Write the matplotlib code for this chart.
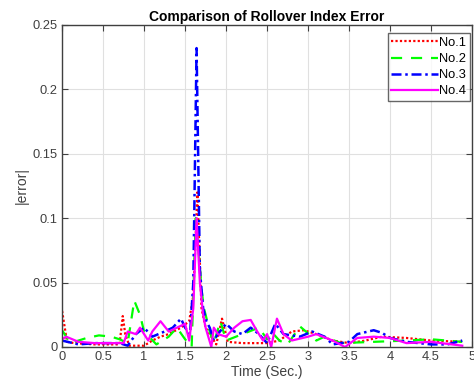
import matplotlib
matplotlib.use("Agg")
import matplotlib.pyplot as plt

plt.rcParams['font.family'] = ['Liberation Sans', 'DejaVu Sans']

# Rollover index error for four cases, sampled over time (s)
t1 = [0.0, 0.02, 0.06, 0.15, 0.4, 0.7, 0.74, 0.77, 0.82, 1.0, 1.1, 1.2, 1.3, 1.45, 1.55, 1.6, 1.65, 1.7, 1.75, 1.8, 1.88, 1.95, 2.02, 2.2, 2.5, 2.65, 2.8, 2.95, 3.1, 3.3, 3.5, 3.7, 3.9, 4.2, 4.5, 4.88]
e1 = [0.028, 0.02, 0.004, 0.003, 0.002, 0.002, 0.024, 0.01, 0.001, 0.001, 0.005, 0.008, 0.01, 0.015, 0.02, 0.04, 0.12, 0.03, 0.015, 0.01, 0.002, 0.022, 0.004, 0.003, 0.003, 0.005, 0.012, 0.013, 0.01, 0.005, 0.003, 0.005, 0.008, 0.007, 0.005, 0.004]

t2 = [0.0, 0.1, 0.3, 0.45, 0.6, 0.7, 0.8, 0.88, 0.95, 1.0, 1.15, 1.3, 1.4, 1.5, 1.58, 1.63, 1.67, 1.7, 1.73, 1.77, 1.8, 1.85, 1.93, 2.0, 2.2, 2.4, 2.5, 2.55, 2.65, 2.75, 2.9, 3.1, 3.2, 3.4, 3.8, 4.2, 4.5, 4.88]
e2 = [0.013, 0.003, 0.007, 0.009, 0.008, 0.006, 0.003, 0.036, 0.025, 0.012, 0.002, 0.008, 0.015, 0.006, 0.0, 0.1, 0.07, 0.045, 0.03, 0.02, 0.012, 0.003, 0.02, 0.005, 0.01, 0.015, 0.006, 0.012, 0.005, 0.002, 0.016, 0.005, 0.008, 0.003, 0.004, 0.005, 0.006, 0.004]

t3 = [0.0, 0.2, 0.4, 0.7, 0.8, 0.9, 1.0, 1.1, 1.25, 1.35, 1.45, 1.5, 1.56, 1.6, 1.64, 1.68, 1.72, 1.76, 1.8, 1.85, 1.9, 2.0, 2.1, 2.2, 2.3, 2.4, 2.5, 2.6, 2.7, 2.9, 3.05, 3.2, 3.3, 3.5, 3.6, 3.8, 3.9, 4.0, 4.2, 4.5, 4.7, 4.88]
e3 = [0.005, 0.002, 0.003, 0.003, 0.001, 0.01, 0.015, 0.008, 0.012, 0.015, 0.022, 0.015, 0.01, 0.05, 0.232, 0.06, 0.03, 0.02, 0.015, 0.005, 0.01, 0.018, 0.012, 0.01, 0.015, 0.01, 0.003, 0.018, 0.01, 0.008, 0.012, 0.008, 0.002, 0.004, 0.01, 0.013, 0.011, 0.007, 0.004, 0.002, 0.002, 0.005]

t4 = [0.0, 0.05, 0.2, 0.4, 0.6, 0.75, 0.8, 0.9, 0.95, 1.05, 1.1, 1.2, 1.3, 1.4, 1.5, 1.55, 1.6, 1.64, 1.68, 1.72, 1.75, 1.82, 1.85, 1.9, 2.0, 2.1, 2.2, 2.3, 2.38, 2.45, 2.5, 2.55, 2.62, 2.7, 2.8, 3.0, 3.1, 3.3, 3.45, 3.6, 3.8, 4.0, 4.2, 4.5, 4.88]
e4 = [0.006, 0.008, 0.004, 0.003, 0.003, 0.003, 0.012, 0.01, 0.015, 0.005, 0.012, 0.02, 0.012, 0.015, 0.018, 0.005, 0.03, 0.1, 0.05, 0.025, 0.015, 0.0, 0.015, 0.01, 0.008, 0.015, 0.02, 0.021, 0.012, 0.005, 0.01, 0.0, 0.022, 0.01, 0.005, 0.008, 0.01, 0.005, 0.0, 0.007, 0.008, 0.007, 0.003, 0.004, 0.001]

labels = ['No.1', 'No.2', 'No.3', 'No.4']

fig = plt.figure(figsize=(4.74, 3.89), dpi=100)
ax = fig.add_axes([0.131, 0.108, 0.865, 0.828])

ax.plot(t1, e1, color='#ff0000', linestyle=(0, (1, 1)), linewidth=1.6, label=labels[0])
ax.plot(t2, e2, color='#00ff00', linestyle=(0, (5, 4)), linewidth=1.6, label=labels[1])
ax.plot(t3, e3, color='#0000ff', linestyle=(0, (4, 1.5, 1, 1.5)), linewidth=1.8, label=labels[2])
ax.plot(t4, e4, color='#ff00ff', linestyle='-', linewidth=1.6, label=labels[3])

ax.set_xlim(0, 5)
ax.set_ylim(0, 0.25)
ax.set_xticks([0, 0.5, 1, 1.5, 2, 2.5, 3, 3.5, 4, 4.5, 5])
ax.set_xticklabels(['0', '0.5', '1', '1.5', '2', '2.5', '3', '3.5', '4', '4.5', '5'])
ax.set_yticks([0, 0.05, 0.1, 0.15, 0.2, 0.25])
ax.set_yticklabels(['0', '0.05', '0.1', '0.15', '0.2', '0.25'])
ax.grid(True, color='#e0e0e0', linewidth=0.8)
ax.set_axisbelow(True)
ax.tick_params(direction='in', top=True, right=True, length=4, labelsize=9.3, colors='#404040', pad=3)
for s in ax.spines.values():
    s.set_color('#404040')
    s.set_linewidth(1.0)

ax.set_title('Comparison of Rollover Index Error', fontsize=10, fontweight='bold', pad=3)
ax.set_xlabel('Time (Sec.)', fontsize=10, color='#404040', labelpad=1)
ax.set_ylabel('|error|', fontsize=10, color='#404040', labelpad=3)

leg = ax.legend(loc='upper right', bbox_to_anchor=(0.995, 0.975), fontsize=9.3,
                frameon=True, fancybox=False, edgecolor='#404040',
                handlelength=3.6, handletextpad=0.1, borderpad=0.3,
                labelspacing=0.32, borderaxespad=0.0)
leg.get_frame().set_linewidth(1.0)

fig.savefig('out.png', dpi=100)
